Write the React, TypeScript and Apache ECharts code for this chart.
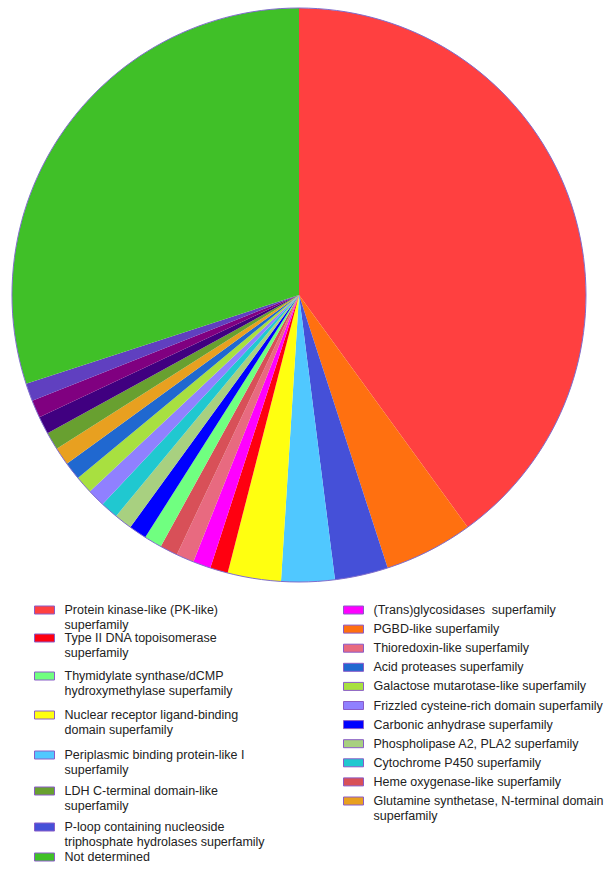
import React, { useEffect, useRef } from "react";
import * as echarts from "echarts";

// Slices in clockwise order from 12 o'clock
const sliceNames = [
  "Protein kinase-like (PK-like) superfamily",
  "PGBD-like superfamily",
  "P-loop containing nucleoside triphosphate hydrolases superfamily",
  "Periplasmic binding protein-like I superfamily",
  "Nuclear receptor ligand-binding domain superfamily",
  "Type II DNA topoisomerase superfamily",
  "(Trans)glycosidases  superfamily",
  "Thioredoxin-like superfamily",
  "Heme oxygenase-like superfamily",
  "Thymidylate synthase/dCMP hydroxymethylase superfamily",
  "Carbonic anhydrase superfamily",
  "Phospholipase A2, PLA2 superfamily",
  "Cytochrome P450 superfamily",
  "Frizzled cysteine-rich domain superfamily",
  "Galactose mutarotase-like superfamily",
  "Acid proteases superfamily",
  "Glutamine synthetase, N-terminal domain superfamily",
  "LDH C-terminal domain-like superfamily",
  "Unlabelled slice 1",
  "Unlabelled slice 2",
  "Unlabelled slice 3",
  "Not determined",
];
const sliceValues = [40, 5, 3, 3, 3, 1, 1, 1, 1, 1, 1, 1, 1, 1, 1, 1, 1, 1, 1, 1, 1, 30];
const sliceColors = [
  "#FF4040", "#FF7010", "#4550D8", "#50C8FF", "#FFFF10", "#FF0010", "#FF00FF",
  "#E86A80", "#D85058", "#70FF80", "#0000FF", "#A8D080", "#20C8D0", "#9080FF",
  "#A8E040", "#2068D0", "#E8A020", "#68A030", "#400080", "#800080", "#6040C0",
  "#40C028",
];

// Legend columns: [series name, displayed label]
const leftLegend: [string, string][] = [
  ["Protein kinase-like (PK-like) superfamily", "Protein kinase-like (PK-like)\nsuperfamily"],
  ["Type II DNA topoisomerase superfamily", "Type II DNA topoisomerase\nsuperfamily"],
  ["Thymidylate synthase/dCMP hydroxymethylase superfamily", "Thymidylate synthase/dCMP\nhydroxymethylase superfamily"],
  ["Nuclear receptor ligand-binding domain superfamily", "Nuclear receptor ligand-binding\ndomain superfamily"],
  ["Periplasmic binding protein-like I superfamily", "Periplasmic binding protein-like I\nsuperfamily"],
  ["LDH C-terminal domain-like superfamily", "LDH C-terminal domain-like\nsuperfamily"],
  ["P-loop containing nucleoside triphosphate hydrolases superfamily", "P-loop containing nucleoside\ntriphosphate hydrolases superfamily"],
  ["Not determined", "Not determined"],
];
const rightLegend: [string, string][] = [
  ["(Trans)glycosidases  superfamily", "(Trans)glycosidases  superfamily"],
  ["PGBD-like superfamily", "PGBD-like superfamily"],
  ["Thioredoxin-like superfamily", "Thioredoxin-like superfamily"],
  ["Acid proteases superfamily", "Acid proteases superfamily"],
  ["Galactose mutarotase-like superfamily", "Galactose mutarotase-like superfamily"],
  ["Frizzled cysteine-rich domain superfamily", "Frizzled cysteine-rich domain superfamily"],
  ["Carbonic anhydrase superfamily", "Carbonic anhydrase superfamily"],
  ["Phospholipase A2, PLA2 superfamily", "Phospholipase A2, PLA2 superfamily"],
  ["Cytochrome P450 superfamily", "Cytochrome P450 superfamily"],
  ["Heme oxygenase-like superfamily", "Heme oxygenase-like superfamily"],
  ["Glutamine synthetase, N-terminal domain superfamily", "Glutamine synthetase, N-terminal domain\nsuperfamily"],
];

// layout (icon centre y for each legend entry)
const leftLegendY = [610, 638, 676, 715, 755, 791, 827, 857];
const rightLegendY0 = 610;
const rightLegendStep = 19.1;

const FONT = "'Liberation Sans', Arial, sans-serif";
const LINE_H = 14.5;
// rect marker 20x8, with an invisible extent to 25 so that the text sits 10px from the marker
const ICON = "path://M0 0H20V8H0Z M25 8L25 8";

function makeLegend(entry: [string, string], left: number, centerY: number) {
  const lines = entry[1].split("\n").length;
  // prepend empty lines so that the first line is vertically centred on the marker
  const label = "\n".repeat(lines - 1) + entry[1];
  return {
    data: [entry[0]],
    left,
    top: centerY - 7.25 - (lines - 1) * LINE_H,
    orient: "vertical",
    padding: 0,
    itemWidth: 25,
    itemHeight: 8,
    itemGap: 0,
    icon: ICON,
    selectedMode: false,
    itemStyle: { borderColor: "#8a5cc8", borderWidth: 1 },
    formatter: () => label,
    textStyle: {
      fontFamily: FONT,
      fontSize: 12.5,
      color: "#222",
      lineHeight: LINE_H,
    },
  };
}

export default function App() {
  const ref = useRef<HTMLDivElement>(null);
  useEffect(() => {
    document.body.style.margin = "0";
    const chart = echarts.init(ref.current!, null, { renderer: "svg" });
    const legends = [
      ...leftLegend.map((e, i) => makeLegend(e, 34, leftLegendY[i])),
      ...rightLegend.map((e, i) => makeLegend(e, 343, rightLegendY0 + rightLegendStep * i)),
    ];
    chart.setOption({
      animation: false,
      backgroundColor: "#fff",
      legend: legends,
      series: [
        {
          type: "pie",
          center: [299, 295],
          radius: [0, 287],
          startAngle: 90,
          clockwise: true,
          label: { show: false },
          labelLine: { show: false },
          emphasis: { disabled: true },
          itemStyle: { borderWidth: 0 },
          data: sliceNames.map((n, i) => ({
            name: n,
            value: sliceValues[i],
            itemStyle: { color: sliceColors[i] },
          })),
        },
        {
          type: "pie",
          silent: true,
          center: [299, 295],
          radius: [0, 287],
          label: { show: false },
          labelLine: { show: false },
          itemStyle: { color: "rgba(0,0,0,0)", borderColor: "#7f6ccc", borderWidth: 1 },
          data: [{ name: "outline", value: 1 }],
        },
      ],
    });
    return () => chart.dispose();
  }, []);
  return <div ref={ref} style={{ width: 608, height: 869 }} />;
}
